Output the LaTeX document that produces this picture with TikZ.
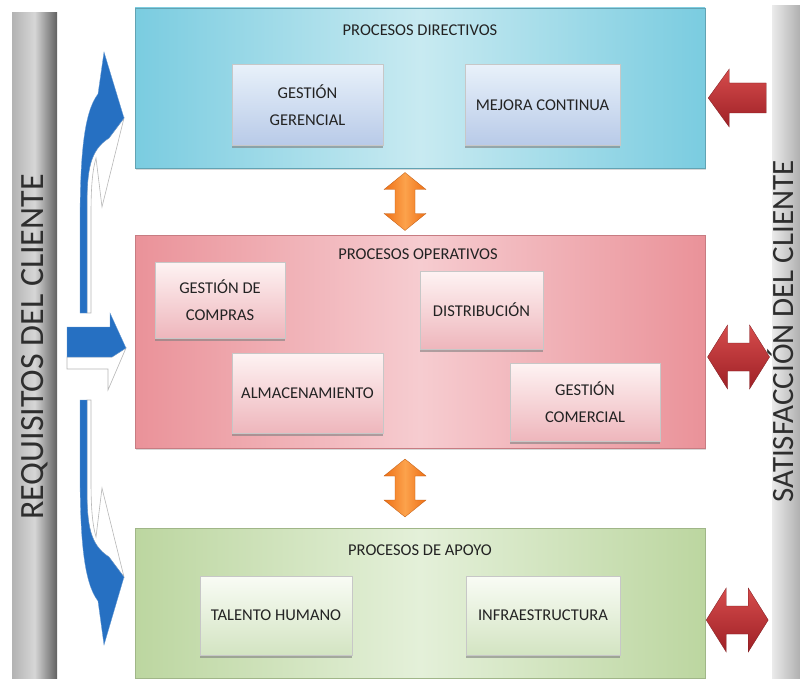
\documentclass[tikz,border=0pt]{standalone}
\usepackage{fontspec}
\setmainfont{Carlito}
\usetikzlibrary{calc,shadows}

\definecolor{blueEdge}{RGB}{122,204,224}
\definecolor{blueMid}{RGB}{200,234,241}
\definecolor{pinkEdge}{RGB}{234,146,153}
\definecolor{pinkMid}{RGB}{246,204,208}
\definecolor{greenEdge}{RGB}{188,214,160}
\definecolor{greenMid}{RGB}{228,240,217}
\definecolor{blueTop}{RGB}{232,241,250}
\definecolor{blueBot}{RGB}{184,202,232}
\definecolor{pinkTop}{RGB}{254,243,243}
\definecolor{pinkBot}{RGB}{238,182,188}
\definecolor{greenTop}{RGB}{249,252,245}
\definecolor{greenBot}{RGB}{211,228,194}
\definecolor{arrowBlue}{RGB}{38,112,194}
\definecolor{orangeDark}{RGB}{238,112,22}
\definecolor{orangeLight}{RGB}{252,162,76}
\definecolor{redDark}{RGB}{158,32,38}
\definecolor{redLight}{RGB}{214,76,76}
\definecolor{inkText}{RGB}{35,35,35}

\tikzset{
  grp/.style={rectangle, inner sep=0pt, draw=#1, line width=0.6pt,
    drop shadow={shadow xshift=1pt, shadow yshift=-2pt, opacity=0.3}},
  subbox/.style={rectangle, inner sep=2pt, align=center, text=inkText,
    draw=black!22, line width=0.5pt,
    font=\fontsize{16.5}{27}\selectfont,
    drop shadow={shadow xshift=0pt, shadow yshift=-2.5pt, opacity=0.6}},
  grptitle/.style={text=inkText, font=\fontsize{16.5}{20}\selectfont},
  sidebar/.style={rectangle, inner sep=0pt},
  sidetext/.style={rotate=90, inner sep=0pt, text=black!82},
  bluefront/.style={fill=arrowBlue, draw=arrowBlue!70!white, line width=0.3pt},
  blueback/.style={fill=white, draw=black!28, line width=0.6pt},
  orangearrow/.style={left color=orangeDark, right color=orangeDark,
    middle color=orangeLight, draw=orangeDark!80!black, line width=0.3pt},
  redarrow/.style={top color=redLight, bottom color=redDark,
    draw=redDark!80!black, line width=0.3pt},
  vdouble/.pic={
    \path[orangearrow] (0,-29) -- (21,-12) -- (10,-12) -- (10,12) -- (21,12)
      -- (0,29) -- (-21,12) -- (-10,12) -- (-10,-12) -- (-21,-12) -- cycle;},
  hdouble/.pic={
    \path[redarrow] (-31,0) -- (-11,-32) -- (-11,-14) -- (11,-14) -- (11,-32)
      -- (31,0) -- (11,32) -- (11,14) -- (-11,14) -- (-11,32) -- cycle;},
  hleft/.pic={
    \path[redarrow] (-29,0) -- (-8,-29) -- (-8,-15) -- (29,-15) -- (29,15)
      -- (-8,15) -- (-8,29) -- cycle;},
}

\begin{document}
\begin{tikzpicture}[x=1pt,y=-1pt]
\useasboundingbox (0,0) rectangle (800,679);
\clip (0,0) rectangle (800,679);
\fill[white] (0,0) rectangle (800,679);

% side bars
\node[sidebar, minimum width=45, minimum height=668,
  left color=black!30, right color=black!62, middle color=black!16]
  (reqbar) at (34.5,347) {};
\node[sidetext, font=\fontsize{34}{38}\selectfont] (reqtext) at (reqbar.center)
  {REQUISITOS DEL CLIENTE};
\node[sidebar, minimum width=45, minimum height=675,
  left color=black!8, right color=black!45]
  (satbar) at (794.5,343.5) {};
\node[sidetext, anchor=base east, font=\fontsize{31}{36}\selectfont] (sattext)
  at (793,160) {SATISFACCIÓN DEL CLIENTE};

% process groups
\node[grp=blueEdge!80!black, minimum width=570, minimum height=160,
  left color=blueEdge, right color=blueEdge, middle color=blueMid]
  (dirbox) at (420,88) {};
\node[grp=pinkEdge!85!black, minimum width=570, minimum height=213,
  left color=pinkEdge, right color=pinkEdge, middle color=pinkMid]
  (opbox) at (420,341.5) {};
\node[grp=greenEdge!85!black, minimum width=570, minimum height=150,
  left color=greenEdge, right color=greenEdge, middle color=greenMid]
  (apbox) at (420,603) {};

\node[grptitle] (dirtitle) at (420,30) {PROCESOS DIRECTIVOS};
\node[grptitle] (optitle) at (418,254) {PROCESOS OPERATIVOS};
\node[grptitle] (aptitle) at (420,550) {PROCESOS DE APOYO};

% directive processes
\node[subbox, top color=blueTop, bottom color=blueBot,
  minimum width=151, minimum height=81] (gg) at (307.5,105) {GESTIÓN\\GERENCIAL};
\node[subbox, top color=blueTop, bottom color=blueBot,
  minimum width=155, minimum height=81] (mc) at (542.5,105) {MEJORA CONTINUA};

% operative processes
\node[subbox, top color=pinkTop, bottom color=pinkBot,
  minimum width=130, minimum height=76] (gcomp) at (220,300) {GESTIÓN DE\\COMPRAS};
\node[subbox, top color=pinkTop, bottom color=pinkBot,
  minimum width=123, minimum height=78] (dist) at (481.5,310) {DISTRIBUCIÓN};
\node[subbox, top color=pinkTop, bottom color=pinkBot,
  minimum width=151, minimum height=80] (alm) at (307.5,393) {ALMACENAMIENTO};
\node[subbox, top color=pinkTop, bottom color=pinkBot,
  minimum width=150, minimum height=78] (gcom) at (585,402) {GESTIÓN\\COMERCIAL};

% support processes
\node[subbox, top color=greenTop, bottom color=greenBot,
  minimum width=152, minimum height=79] (th) at (276,615.5) {TALENTO HUMANO};
\node[subbox, top color=greenTop, bottom color=greenBot,
  minimum width=154, minimum height=79] (infra) at (543,615.5) {INFRAESTRUCTURA};

% links between the process groups
\coordinate (lnk1) at ($(dirbox.south)!0.5!(opbox.north)+(-15,0)$);
\coordinate (lnk2) at ($(opbox.south)!0.5!(apbox.north)+(-15,0)$);
\pic at (lnk1) {vdouble};
\pic at (lnk2) {vdouble};

% feedback towards customer satisfaction
\coordinate (fb1) at ($(dirbox.east)!0.48!(satbar.west |- dirbox.east)+(0,10)$);
\coordinate (fb2) at ($(opbox.east)!0.5!(satbar.west |- opbox.east)+(0,15.5)$);
\coordinate (fb3) at ($(apbox.east)!0.48!(satbar.west |- apbox.east)+(0,17)$);
\pic at (fb1) {hleft};
\pic at (fb2) {hdouble};
\pic at (fb3) {hdouble};

% customer requirements entering the process groups
% upper curved arrow
\path[blueback] (109,138) -- (124,118) -- (102,207) -- (96,158)
  .. controls (92,172) and (91,190) .. (91,215) -- (91,313) -- (87,313)
  -- (87,205) .. controls (87,170) and (90,150) .. (109,138) -- cycle;
\path[bluefront] (80,313) -- (80,225) .. controls (80,155) and (84,112) .. (98,94)
  -- (104,52) -- (124,118) -- (109,138)
  .. controls (90,150) and (87,170) .. (87,205) -- (87,313) -- cycle;
% straight arrow
\path[blueback] (67,357) -- (112,357) -- (126,348) -- (108,390) -- (108,369)
  -- (67,369) -- cycle;
\path[bluefront] (67,327) -- (110,327) -- (110,313) -- (126,348) -- (112,357)
  -- (67,357) -- cycle;
% lower curved arrow
\path[blueback] (109,557) -- (124,577) -- (102,488) -- (96,537)
  .. controls (92,523) and (91,505) .. (91,480) -- (91,400) -- (87,400)
  -- (87,490) .. controls (87,525) and (90,545) .. (109,557) -- cycle;
\path[bluefront] (80,400) -- (80,470) .. controls (80,540) and (84,583) .. (98,601)
  -- (104,645) -- (124,577) -- (109,557)
  .. controls (90,545) and (87,525) .. (87,490) -- (87,400) -- cycle;
\end{tikzpicture}
\end{document}
